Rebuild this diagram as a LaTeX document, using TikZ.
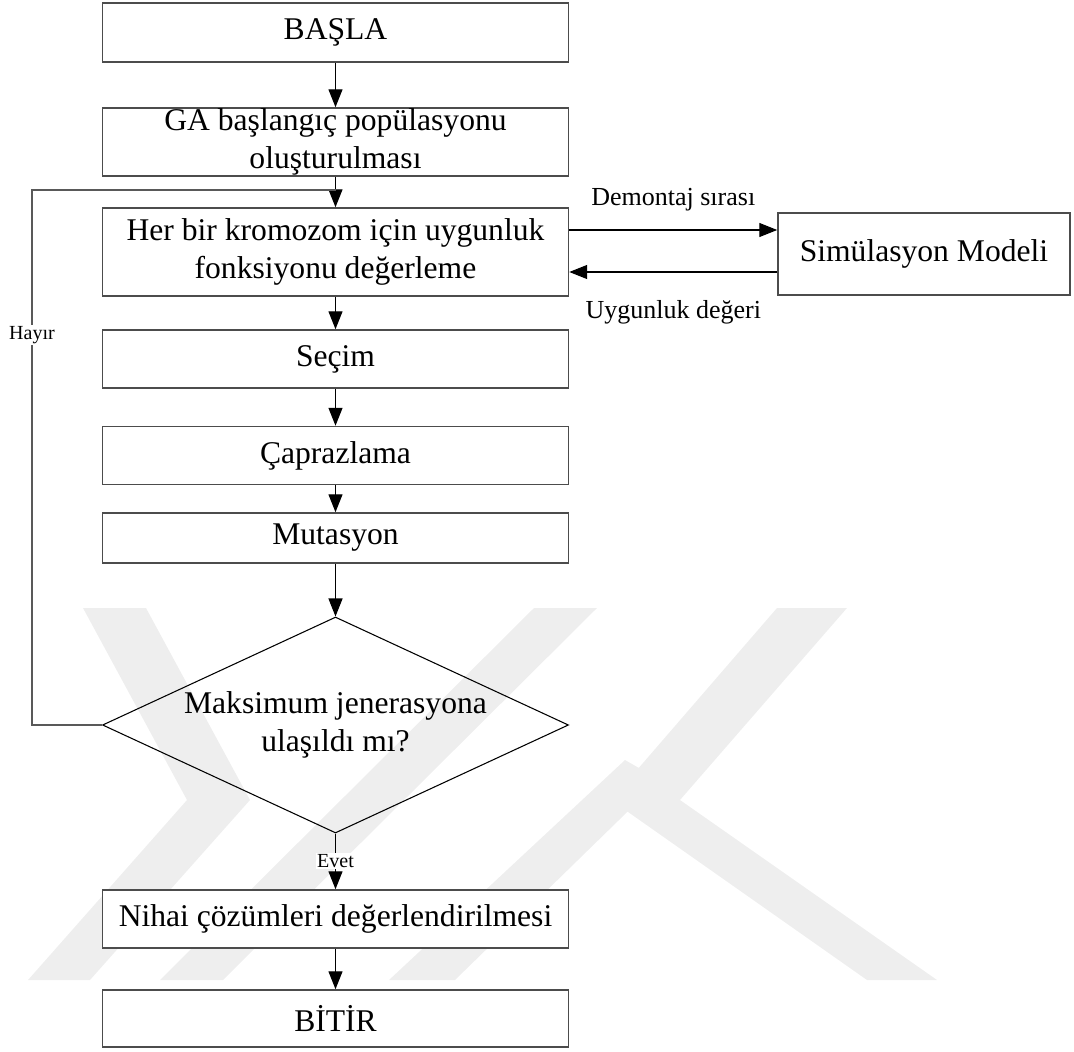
\documentclass[tikz,border=0pt]{standalone}
\usepackage{fontspec}
\setmainfont{Liberation Serif}
\usetikzlibrary{arrows.meta,shapes.geometric}
\definecolor{wmark}{HTML}{EEEEEE}
\begin{document}
\begin{tikzpicture}[x=0.75pt,y=-0.75pt,
  box/.style={draw=black!70,line width=1.1pt,minimum width=349.5pt,align=center,
    font=\fontsize{23.7}{29}\selectfont,inner sep=0pt,fill=white},
  decision/.style={draw=black,line width=0.8pt,diamond,aspect=2.157,minimum width=349.5pt,
    minimum height=162pt,inner sep=0pt,align=center,font=\fontsize{23.7}{29}\selectfont},
  flow/.style={draw=black,line width=0.9pt,-{Triangle[length=13.5pt,width=10.5pt]}},
  loop/.style={draw=black!65,line width=1.1pt},
  smalllabel/.style={font=\fontsize{19.5}{22}\selectfont,inner sep=1pt},
  tinylabel/.style={font=\fontsize{15}{18}\selectfont,inner sep=1pt,fill=white},
  band/.style={fill=wmark,draw=none}]
\useasboundingbox (0,0) rectangle (1074,1052);

% light background emblem made of diagonal bands
\fill[band] (83,608) -- (146,608) -- (250,800) -- (90,980) -- (28,980) -- (187,800) -- cycle;
\fill[band] (160,980) -- (223,980) -- (597,608) -- (534,608) -- cycle;
\fill[band] (777,608) -- (847,608) -- (680,800) -- (937,980) -- (867,980) -- (611,800) -- cycle;
\fill[band] (389,980) -- (455,980) -- (660,780) -- (625,760) -- cycle;

% main column
\node[box,minimum height=44.25pt] (start) at (335.5,32.5) {BAŞLA};
\node[box,minimum height=51pt] (init) at (335.5,142) {GA başlangıç popülasyonu\\oluşturulması};
\node[box,minimum height=66pt] (fit) at (335.5,252) {Her bir kromozom için uygunluk\\fonksiyonu değerleme};
\node[box,minimum height=43.5pt] (sel) at (335.5,359) {Seçim};
\node[box,minimum height=43.5pt] (cross) at (335.5,455.5) {Çaprazlama};
\node[box,minimum height=37.5pt] (mut) at (335.5,538) {Mutasyon};
\node[decision] (dec) at (335.5,725) {Maksimum jenerasyona\\ulaşıldı mı?};
\node[box,minimum height=43.5pt] (final) at (335.5,919) {Nihai çözümleri değerlendirilmesi};
\node[box,minimum height=42.75pt] (stop) at (335.5,1018.5) {BİTİR};

% simulation model
\node[box,minimum width=219pt,minimum height=61.5pt] (sim) at (924,254) {Simülasyon Modeli};

% flow connectors
\draw[flow] (start) -- (init);
\draw[flow] (init) -- (fit);
\draw[flow] (fit) -- (sel);
\draw[flow] (sel) -- (cross);
\draw[flow] (cross) -- (mut);
\draw[flow] (mut) -- (dec);
\draw[flow] (final) -- (stop);

% yes branch
\draw[flow] (dec.south) -- node[tinylabel,pos=0.5]{Evet} (final.north);

% no branch back to fitness evaluation
\coordinate (noL) at (32,725);
\coordinate (noT) at (32,190);
\coordinate (noR) at (335.5,190);
\draw[loop] (dec.west) -- (noL) -- (noT) -- (noR);
\node[tinylabel] (nolabel) at (32,335) {Hayır};

% exchange with the simulation model
\draw[flow] (fit.east |- 0,230) -- node[smalllabel,above=13pt,pos=0.5]{Demontaj sırası} (sim.west |- 0,230);
\draw[flow] (sim.west |- 0,272) -- node[smalllabel,below=20pt,pos=0.5]{Uygunluk değeri} (fit.east |- 0,272);
\end{tikzpicture}
\end{document}
